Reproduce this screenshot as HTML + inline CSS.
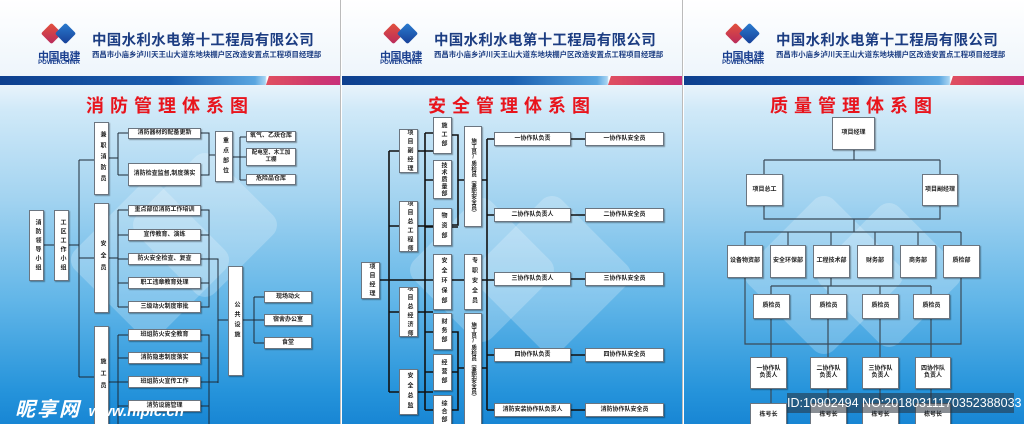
<!DOCTYPE html>
<html><head><meta charset="utf-8">
<style>
*{margin:0;padding:0;box-sizing:border-box}
body{width:1024px;height:424px;overflow:hidden;background:#fff;font-family:"Liberation Sans","Noto Sans CJK SC",sans-serif}
.p{position:absolute;top:0;width:340px;height:424px;overflow:hidden;background:linear-gradient(180deg,#fff 0px,#f4f9fd 60px,#e8f3fb 86px,#d0e9f8 110px,#a2d3f0 200px,#62b6e8 300px,#2694db 390px,#1886d4 424px)}
.hdr{position:absolute;left:0;top:0;width:340px;height:76px;background:linear-gradient(180deg,#fff,#eef5fb)}
.stripe{position:absolute;left:0;top:76px;width:340px;height:9px;background:linear-gradient(90deg,#0d3f8e 0%,#1a5fb0 50%,#5aa6e0 75%,#a7d4f2 78%,#fff 78.5%)}
.stripe2{position:absolute;left:266px;top:76px;width:74px;height:9px;background:linear-gradient(90deg,#e05060,#d03a6c 60%,#c8307a);clip-path:polygon(4% 0,100% 0,100% 100%,0 100%)}
.logo{position:absolute;left:42px;top:21px;width:36px;height:26px}
.logo i{position:absolute;width:15px;height:15px;transform:rotate(45deg);border-radius:2px}
.cn{position:absolute;left:34px;top:48px;width:50px;text-align:center;font-size:11px;font-weight:bold;color:#1a3f8f;letter-spacing:-0.5px}
.en{position:absolute;left:34px;top:60px;width:50px;text-align:center;font-size:6px;font-weight:bold;color:#1a3f8f}
.co{position:absolute;left:92px;top:29px;font-size:14.5px;font-weight:bold;color:#1c3d82;white-space:nowrap;letter-spacing:0.3px}
.sub{position:absolute;left:92px;top:49px;font-size:7.4px;font-weight:bold;color:#1c3d82;white-space:nowrap}
.ttl{position:absolute;left:0;top:92px;width:340px;text-align:center;font-size:18px;font-weight:bold;color:#e8141c;letter-spacing:6px;white-space:nowrap}
.dia{position:absolute;border-radius:14px;background:rgba(255,255,255,0.22);transform:rotate(45deg)}
svg.l{position:absolute;left:0;top:0}
.b{position:absolute;background:#fff;border:1px solid #6b7580;box-shadow:1px 1px 1px rgba(0,0,0,0.35);display:flex;align-items:center;justify-content:center;text-align:center;font-size:6px;font-weight:bold;color:#222;line-height:1.15;white-space:nowrap;overflow:hidden}
.v{writing-mode:vertical-rl;text-orientation:upright;letter-spacing:4px}
.w{white-space:normal}
</style></head><body>

<!-- PANEL 1 -->
<div class="p" style="left:0">
<div class="hdr"></div><div class="stripe"></div><div class="stripe2"></div>
<div class="logo"><i style="left:2px;top:5px;background:linear-gradient(135deg,#e4523c,#b82a5c)"></i><i style="left:16px;top:5px;background:linear-gradient(135deg,#2a7cd0,#173f97)"></i></div>
<div class="cn">中国电建</div><div class="en">POWERCHINA</div>
<div class="co">中国水利水电第十工程局有限公司</div>
<div class="sub">西昌市小庙乡泸川天王山大道东地块棚户区改造安置点工程项目经理部</div>
<div class="ttl">消防管理体系图</div>
<div class="dia" style="left:90px;top:200px;width:120px;height:120px"></div>
<div class="dia" style="left:150px;top:170px;width:110px;height:110px"></div>
<svg class="l" width="340" height="424"><g stroke="#1e2a36" stroke-width="1" fill="none">
<path d="M43 245H54M68 245H79M79 160V377M79 160H94M79 258H94M79 377H94"/>
<path d="M108 158H118M118 133V175M118 133H128M118 175H128M201 133H209V175H201M209 155H215"/>
<path d="M233 157H240M240 137V180M240 137H246M240 157H246M240 180H246"/>
<path d="M108 258H118M118 210V307M118 210H128M118 235H128M118 259H128M118 283H128M118 307H128"/>
<path d="M201 210H209V307H201M201 235H209M201 283H209M201 259H218V383"/>
<path d="M108 382H118M118 335V424M118 335H128M118 358H128M118 382H128M118 406H128"/>
<path d="M201 335H209V424M201 358H209M201 406H209M201 382H218M218 320H228"/>
<path d="M243 320H254M254 297V343M254 297H264M254 320H264M254 343H264"/>
</g></svg>
<div class="b v" style="left:29px;top:210px;width:15px;height:71px;letter-spacing:3px">消防领导小组</div>
<div class="b v" style="left:54px;top:210px;width:15px;height:71px;letter-spacing:3px">工区工作小组</div>
<div class="b v" style="left:94px;top:122px;width:15px;height:73px;letter-spacing:5px">兼职消防员</div>
<div class="b v" style="left:94px;top:203px;width:15px;height:110px;letter-spacing:6px">安全员</div>
<div class="b v" style="left:94px;top:326px;width:15px;height:100px;letter-spacing:6px">施工员</div>
<div class="b" style="left:128px;top:128px;width:73px;height:11px">消防器材的配备更新</div>
<div class="b" style="left:128px;top:163px;width:73px;height:23px">消防检查监督,制度落实</div>
<div class="b v" style="left:215px;top:131px;width:18px;height:51px;letter-spacing:4px">重点部位</div>
<div class="b" style="left:246px;top:131px;width:50px;height:11px">氧气、乙炔仓库</div>
<div class="b w" style="left:246px;top:148px;width:50px;height:18px;font-size:5.5px;line-height:1.3;padding:0 4px">配电室、木工加工棚</div>
<div class="b" style="left:246px;top:174px;width:50px;height:11px">危险品仓库</div>
<div class="b" style="left:128px;top:205px;width:73px;height:11px">重点部位消防工作培训</div>
<div class="b" style="left:128px;top:229px;width:73px;height:12px">宣传教育、演练</div>
<div class="b" style="left:128px;top:253px;width:73px;height:12px">防火安全检查、复查</div>
<div class="b" style="left:128px;top:277px;width:73px;height:12px">职工违章教育处理</div>
<div class="b" style="left:128px;top:301px;width:73px;height:12px">三级动火制度审批</div>
<div class="b" style="left:128px;top:329px;width:73px;height:12px">班组防火安全教育</div>
<div class="b" style="left:128px;top:352px;width:73px;height:12px">消防隐患制度落实</div>
<div class="b" style="left:128px;top:376px;width:73px;height:12px">班组防火宣传工作</div>
<div class="b" style="left:128px;top:400px;width:73px;height:12px">消防设施管理</div>
<div class="b v" style="left:228px;top:266px;width:15px;height:110px;letter-spacing:4px">公共设施</div>
<div class="b" style="left:264px;top:291px;width:48px;height:12px">现场动火</div>
<div class="b" style="left:264px;top:314px;width:48px;height:12px">宿舍办公室</div>
<div class="b" style="left:264px;top:337px;width:48px;height:12px">食堂</div>
<div style="position:absolute;left:15px;top:393px;font-size:20px;font-weight:bold;font-style:italic;color:#fff;letter-spacing:2px;white-space:nowrap">昵享网 <span style="font-size:15px;letter-spacing:0">www.nipic.cn</span></div>
</div>

<!-- PANEL 2 -->
<div class="p" style="left:342px">
<div class="hdr"></div><div class="stripe"></div><div class="stripe2"></div>
<div class="logo"><i style="left:2px;top:5px;background:linear-gradient(135deg,#e4523c,#b82a5c)"></i><i style="left:16px;top:5px;background:linear-gradient(135deg,#2a7cd0,#173f97)"></i></div>
<div class="cn">中国电建</div><div class="en">POWERCHINA</div>
<div class="co">中国水利水电第十工程局有限公司</div>
<div class="sub">西昌市小庙乡泸川天王山大道东地块棚户区改造安置点工程项目经理部</div>
<div class="ttl">安全管理体系图</div>
<div class="dia" style="left:85px;top:215px;width:110px;height:110px"></div>
<div class="dia" style="left:150px;top:215px;width:120px;height:120px"></div>
<svg class="l" width="340" height="424"><g stroke="#111" stroke-width="1.6" fill="none">
<path d="M37 280H91M47 151V392M47 151H57M47 226H57M47 312H57M47 392H57"/>
<path d="M76 151H91M76 226H91M76 312H91M76 392H91M83 133V410M83 133H91M83 180H91M83 227H91M83 332H91M83 372H91M83 410H91"/>
<path d="M110 135H116V225H110M110 227H116M116 180H122M110 280H122"/>
<path d="M110 332H116V410H110M110 372H116M116 368H122"/>
<path d="M140 180H145M140 280H152M140 368H145M145 139V410M145 139H152M145 215H152M145 355H152M145 410H152"/>
<path d="M229 139H243M229 215H243M229 279H243M229 355H243M229 410H243"/>
</g></svg>
<div class="b v" style="left:19px;top:262px;width:19px;height:37px;letter-spacing:3px">项目经理</div>
<div class="b v" style="left:57px;top:129px;width:19px;height:44px;letter-spacing:3px">项目副经理</div>
<div class="b v" style="left:57px;top:201px;width:19px;height:51px;letter-spacing:3px">项目总工程师</div>
<div class="b v" style="left:57px;top:287px;width:19px;height:50px;letter-spacing:3px">项目总经济师</div>
<div class="b v" style="left:57px;top:369px;width:19px;height:46px;letter-spacing:4px">安全总监</div>
<div class="b v" style="left:91px;top:117px;width:19px;height:37px;letter-spacing:3px">施工部</div>
<div class="b v" style="left:91px;top:160px;width:19px;height:39px;letter-spacing:1px">技术质量部</div>
<div class="b v" style="left:91px;top:208px;width:19px;height:38px;letter-spacing:4px">物资部</div>
<div class="b v" style="left:91px;top:254px;width:19px;height:56px;letter-spacing:4px">安全环保部</div>
<div class="b v" style="left:91px;top:313px;width:19px;height:37px;letter-spacing:3px">财务部</div>
<div class="b v" style="left:91px;top:354px;width:19px;height:37px;letter-spacing:3px">经营部</div>
<div class="b v" style="left:91px;top:395px;width:19px;height:32px;letter-spacing:2px;justify-content:flex-start;padding-top:4px">综合部</div>
<div class="b v" style="left:122px;top:126px;width:18px;height:101px;letter-spacing:0;font-size:5.5px">施工员/质检员（兼职安全员）</div>
<div class="b v" style="left:122px;top:254px;width:18px;height:56px;letter-spacing:4px">专职安全员</div>
<div class="b v" style="left:122px;top:313px;width:18px;height:115px;letter-spacing:0;font-size:5.5px;justify-content:flex-start;padding-top:8px">施工员/质检员（兼职安全员）</div>
<div class="b" style="left:152px;top:132px;width:77px;height:14px">一协作队负责</div>
<div class="b" style="left:152px;top:208px;width:77px;height:14px">二协作队负责人</div>
<div class="b" style="left:152px;top:272px;width:77px;height:14px">三协作队负责人</div>
<div class="b" style="left:152px;top:348px;width:77px;height:14px">四协作队负责</div>
<div class="b" style="left:152px;top:403px;width:77px;height:14px">消防安装协作队负责人</div>
<div class="b" style="left:243px;top:132px;width:79px;height:14px">一协作队安全员</div>
<div class="b" style="left:243px;top:208px;width:79px;height:14px">二协作队安全员</div>
<div class="b" style="left:243px;top:272px;width:79px;height:14px">三协作队安全员</div>
<div class="b" style="left:243px;top:348px;width:79px;height:14px">四协作队安全员</div>
<div class="b" style="left:243px;top:403px;width:79px;height:14px">消防协作队安全员</div>
</div>

<!-- PANEL 3 -->
<div class="p" style="left:684px">
<div class="hdr"></div><div class="stripe"></div><div class="stripe2"></div>
<div class="logo"><i style="left:2px;top:5px;background:linear-gradient(135deg,#e4523c,#b82a5c)"></i><i style="left:16px;top:5px;background:linear-gradient(135deg,#2a7cd0,#173f97)"></i></div>
<div class="cn">中国电建</div><div class="en">POWERCHINA</div>
<div class="co">中国水利水电第十工程局有限公司</div>
<div class="sub">西昌市小庙乡泸川天王山大道东地块棚户区改造安置点工程项目经理部</div>
<div class="ttl">质量管理体系图</div>
<div class="dia" style="left:80px;top:215px;width:120px;height:120px"></div>
<div class="dia" style="left:150px;top:220px;width:110px;height:110px"></div>
<svg class="l" width="340" height="424"><g stroke="#3a4a58" stroke-width="1.2" fill="none">
<path d="M170 150V160M80 160H256M80 160V174M256 160V174"/>
<path d="M80 206V219H256V206M170 219V232M61 232H277M61 232V245M104 232V245M147 232V245M191 232V245M234 232V245M277 232V245"/>
<path d="M147 278V286M87 286H247M87 286V294M144 286V294M196 286V294M247 286V294"/>
<path d="M61 278V344H277V278"/>
<path d="M87 319V357M144 319V357M196 319V357M247 319V357M87 389V403M144 389V403M196 389V403M247 389V403"/>
</g></svg>
<div class="b" style="left:148px;top:117px;width:43px;height:33px">项目经理</div>
<div class="b" style="left:62px;top:174px;width:37px;height:32px">项目总工</div>
<div class="b" style="left:238px;top:174px;width:36px;height:32px">项目副经理</div>
<div class="b" style="left:43px;top:245px;width:36px;height:33px">设备物资部</div>
<div class="b" style="left:86px;top:245px;width:36px;height:33px">安全环保部</div>
<div class="b" style="left:129px;top:245px;width:37px;height:33px">工程技术部</div>
<div class="b" style="left:173px;top:245px;width:36px;height:33px">财务部</div>
<div class="b" style="left:216px;top:245px;width:36px;height:33px">商务部</div>
<div class="b" style="left:259px;top:245px;width:37px;height:33px">质检部</div>
<div class="b" style="left:69px;top:294px;width:37px;height:25px">质检员</div>
<div class="b" style="left:126px;top:294px;width:37px;height:25px">质检员</div>
<div class="b" style="left:178px;top:294px;width:37px;height:25px">质检员</div>
<div class="b" style="left:229px;top:294px;width:37px;height:25px">质检员</div>
<div class="b w" style="left:66px;top:357px;width:37px;height:32px">一协作队<br>负责人</div>
<div class="b w" style="left:126px;top:357px;width:37px;height:32px">二协作队<br>负责人</div>
<div class="b w" style="left:178px;top:357px;width:37px;height:32px">三协作队<br>负责人</div>
<div class="b w" style="left:231px;top:357px;width:36px;height:32px">四协作队<br>负责人</div>
<div class="b" style="left:66px;top:403px;width:37px;height:24px">栋号长</div>
<div class="b" style="left:126px;top:403px;width:37px;height:24px">栋号长</div>
<div class="b" style="left:178px;top:403px;width:37px;height:24px">栋号长</div>
<div class="b" style="left:231px;top:403px;width:36px;height:24px">栋号长</div>
</div>

<div style="position:absolute;left:340px;top:0;width:2px;height:424px;background:#fff;border-left:1px solid #bbb"></div>
<div style="position:absolute;left:682px;top:0;width:2px;height:424px;background:#fff;border-left:1px solid #bbb"></div>
<div style="position:absolute;left:787px;top:393px;width:227px;height:20px;background:rgba(40,50,60,0.55);color:#fff;font-size:12.5px;line-height:20px;text-align:center;white-space:nowrap">ID:10902494 NO:20180311170352388033</div>
</body></html>
